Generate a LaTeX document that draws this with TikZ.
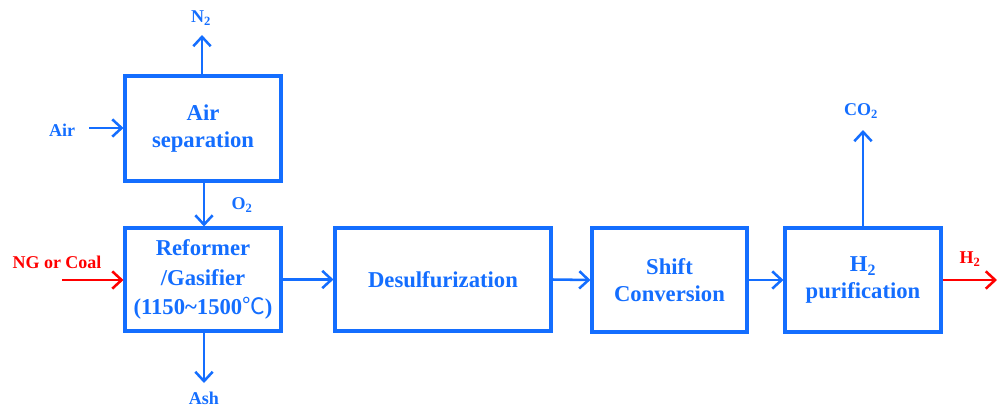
\documentclass[tikz,border=0pt]{standalone}
\usepackage{fontspec}
\setmainfont{Liberation Serif}
\newfontfamily\cjk{Noto Sans CJK SC}
\usetikzlibrary{arrows.meta}
\definecolor{fblue}{RGB}{20,110,255}
\definecolor{fred}{RGB}{255,0,0}
\tikzset{
  procbox/.style={draw=fblue, line width=2.3pt, text=fblue, font=\fontsize{17}{20}\selectfont\bfseries, align=center, inner sep=0pt},
  flow/.style={draw=fblue, line width=1.9pt, -{Straight Barb[length=7pt,width=13pt,line width=1.9pt]}},
  redflow/.style={flow, draw=fred},
  lbl/.style={text=fblue, font=\fontsize{13.5}{15}\selectfont\bfseries, inner sep=0pt},
  redlbl/.style={lbl, text=fred}
}
\begin{document}
\begin{tikzpicture}[x=0.75pt,y=-0.75pt]
\useasboundingbox (0,0) rectangle (997,408);
% boxes
\node[procbox, minimum width=117pt, minimum height=78.75pt] (air) at (203,128.5) {Air\\separation};
\node[procbox, minimum width=117pt, minimum height=77.25pt, align=center] (ref) at (203,279.5) {Reformer\\[2pt]/Gasifier\\[2pt](1150\char`~1500{\cjk\mdseries ℃})};
\node[procbox, minimum width=162pt, minimum height=77.25pt] (des) at (443,279.5) {Desulfurization};
\node[procbox, minimum width=116.25pt, minimum height=78pt] (shift) at (669.5,280) {Shift\\Conversion};
\node[procbox, minimum width=117pt, minimum height=78pt] (pur) at (863,280) {H\textsubscript{2}\\purification};
% labels
\node[lbl] (n2) at (201,18) {N\textsubscript{2}};
\node[lbl] (airl) at (62,130) {Air};
\node[lbl] (o2) at (242,205) {O\textsubscript{2}};
\node[redlbl] (ng) at (57,262) {NG or Coal};
\node[lbl] (ash) at (204,398) {Ash};
\node[lbl] (co2) at (861,111) {CO\textsubscript{2}};
\node[redlbl] (h2) at (970,259) {H\textsubscript{2}};
% free ends
\coordinate (n2end) at (202,35);
\coordinate (airstart) at (89,128);
\coordinate (ngstart) at (62,280);
\coordinate (ashend) at (204,383);
\coordinate (co2end) at (863,130);
\coordinate (h2end) at (997,280);
% connectors
\draw[flow] (air.north -| n2end) -- (n2end);
\draw[flow] (airstart) -- (air.west |- airstart);
\draw[flow] ([xshift=0.75pt]air.south) -- ([xshift=0.75pt]ref.north);
\draw[redflow] (ngstart) -- (ref.west |- ngstart);
\draw[flow] ([xshift=0.75pt]ref.south) -- (ashend);
\draw[flow] (ref.east) -- (des.west);
\draw[flow] (des.east) -- (shift.west);
\draw[flow] (shift.east) -- (pur.west);
\draw[flow] (pur.north) -- (co2end);
\draw[redflow] (pur.east) -- (h2end);
\end{tikzpicture}
\end{document}
